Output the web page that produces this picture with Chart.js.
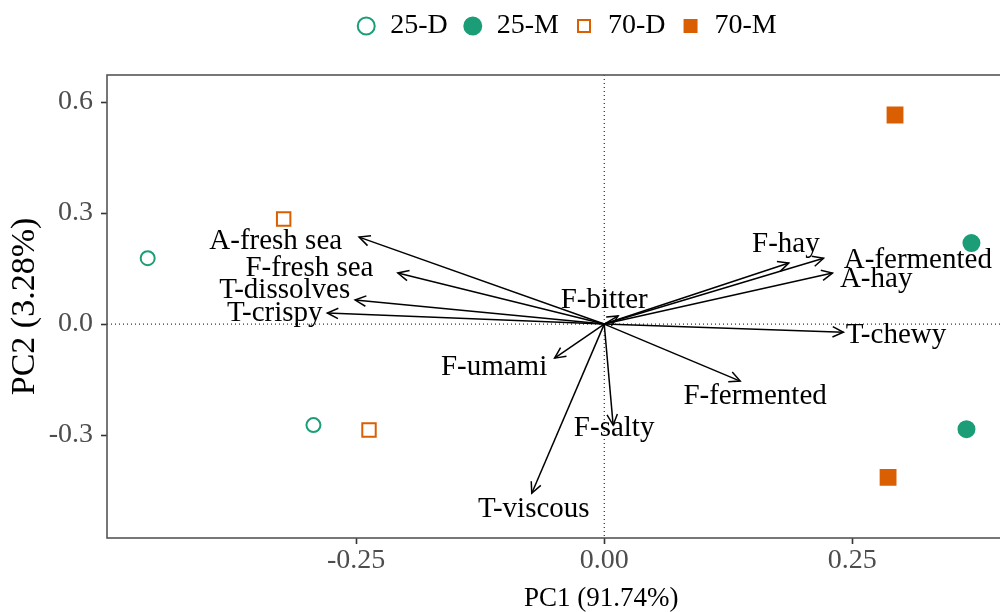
<!DOCTYPE html>
<html>
<head>
<meta charset="utf-8">
<script src="https://cdn.jsdelivr.net/npm/chart.js@4.4.0/dist/chart.umd.min.js"></script>
<style>
  html, body { margin: 0; padding: 0; background: #fff; overflow: hidden; }
  #wrap { width: 1108px; height: 612px; }
</style>
</head>
<body>
<div id="wrap"><canvas id="pca"></canvas></div>
<script>
// sample scores, two replicates per group
var groups = ['25-D', '25-M', '70-D', '70-M']
var scoreX = [[-0.460, -0.293], [0.370, 0.365], [-0.323, -0.237], [0.293, 0.286]]
var scoreY = [[0.178, -0.273], [0.219, -0.284], [0.284, -0.286], [0.565, -0.414]]

// attribute loadings (arrows from origin)
var attrs = ['A-fresh sea', 'F-fresh sea', 'T-dissolves', 'T-crispy', 'F-bitter', 'F-hay',
             'A-fermented', 'A-hay', 'T-chewy', 'F-fermented', 'F-salty', 'F-umami', 'T-viscous']
var loadX = [-0.247, -0.208, -0.251, -0.279, 0.014, 0.186, 0.221, 0.230, 0.241, 0.137, 0.009, -0.050, -0.073]
var loadY = [0.235, 0.138, 0.065, 0.030, 0.022, 0.165, 0.178, 0.138, -0.022, -0.154, -0.273, -0.092, -0.457]
// where each attribute name sits
var labelX = [-0.331, -0.297, -0.322, -0.332, 0.000, 0.183, 0.316, 0.274, 0.294, 0.152, 0.010, -0.111, -0.071]
var labelY = [0.224, 0.151, 0.092, 0.030, 0.065, 0.216, 0.173, 0.122, -0.030, -0.195, -0.281, -0.116, -0.500]

var xTicks = [-0.25, 0, 0.25]
var yTicks = [-0.3, 0, 0.3, 0.6]

var green = '#1b9e77', orange = '#d95f02'
var serif = "'Liberation Serif', 'Times New Roman', serif"

var groupStyle = [
  { pointStyle: 'circle', fill: '#ffffff', stroke: green, radius: 7 },
  { pointStyle: 'circle', fill: green, stroke: green, radius: 8 },
  { pointStyle: 'rect', fill: '#ffffff', stroke: orange, radius: 9.5 },
  { pointStyle: 'rect', fill: orange, stroke: orange, radius: 10.5 }
]

var datasets = []
groups.forEach(function (g, i) {
  var pts = scoreX[i].map(function (x, j) { return { x: x, y: scoreY[i][j] } })
  datasets.push({
    type: 'scatter',
    label: g,
    data: pts,
    pointStyle: groupStyle[i].pointStyle,
    backgroundColor: groupStyle[i].fill,
    borderColor: groupStyle[i].stroke,
    borderWidth: 2,
    pointRadius: groupStyle[i].radius,
    pointHoverRadius: groupStyle[i].radius,
    order: 0
  })
})
attrs.forEach(function (a, i) {
  datasets.push({
    type: 'line',
    label: a,
    isArrow: true,
    data: [{ x: 0, y: 0 }, { x: loadX[i], y: loadY[i] }],
    borderColor: '#000',
    borderWidth: 1.5,
    pointRadius: 0,
    fill: false,
    order: 1
  })
})

// dotted zero lines and the panel frame
var panelPlugin = {
  id: 'panel',
  beforeDatasetsDraw: function (chart) {
    var ctx = chart.ctx, a = chart.chartArea
    var x0 = chart.scales.x.getPixelForValue(0)
    var y0 = chart.scales.y.getPixelForValue(0)
    ctx.save()
    ctx.strokeStyle = '#000'
    ctx.lineWidth = 1
    ctx.setLineDash([1, 3])
    ctx.beginPath()
    ctx.moveTo(x0, a.top); ctx.lineTo(x0, a.bottom)
    ctx.moveTo(a.left, y0); ctx.lineTo(a.right, y0)
    ctx.stroke()
    ctx.restore()
  },
  afterDraw: function (chart) {
    var ctx = chart.ctx, a = chart.chartArea
    ctx.save()
    ctx.strokeStyle = '#555'
    ctx.lineWidth = 1.6
    ctx.strokeRect(a.left, a.top, a.right - a.left, a.bottom - a.top)
    ctx.restore()
  }
}

// room under the legend, and nudge it sideways
var legendGap = {
  id: 'legendGap',
  afterInit: function (chart) {
    var lg = chart.legend, fit = lg.fit
    lg.fit = function () { fit.call(this); this.height += 25 }
  },
  afterLayout: function (chart) {
    chart.legend.left += 26
  }
}

// open arrowheads at loading ends, then attribute names
var arrowPlugin = {
  id: 'arrows',
  afterDatasetsDraw: function (chart) {
    var ctx = chart.ctx
    var sx = chart.scales.x, sy = chart.scales.y
    ctx.save()
    ctx.strokeStyle = '#000'
    ctx.lineWidth = 1.5
    chart.data.datasets.forEach(function (ds, i) {
      if (!ds.isArrow) return
      var pts = chart.getDatasetMeta(i).data
      var p0 = pts[0], p1 = pts[1]
      var ang = Math.atan2(p1.y - p0.y, p1.x - p0.x)
      var len = 12, spread = Math.PI / 7
      ctx.beginPath()
      ctx.moveTo(p1.x - len * Math.cos(ang - spread), p1.y - len * Math.sin(ang - spread))
      ctx.lineTo(p1.x, p1.y)
      ctx.lineTo(p1.x - len * Math.cos(ang + spread), p1.y - len * Math.sin(ang + spread))
      ctx.stroke()
    })
    ctx.fillStyle = '#000'
    ctx.font = '29px ' + serif
    ctx.textAlign = 'center'
    ctx.textBaseline = 'middle'
    attrs.forEach(function (a, i) {
      ctx.fillText(a, sx.getPixelForValue(labelX[i]), sy.getPixelForValue(labelY[i]))
    })
    ctx.restore()
  }
}

new Chart(document.getElementById('pca'), {
  data: { datasets: datasets },
  plugins: [panelPlugin, legendGap, arrowPlugin],
  options: {
    responsive: true,
    maintainAspectRatio: false,
    animation: false,
    layout: { padding: { top: -3, right: 1, left: 0, bottom: 0 } },
    plugins: {
      tooltip: { enabled: false },
      legend: {
        display: true,
        position: 'top',
        labels: {
          usePointStyle: true,
          boxWidth: 20,
          boxHeight: 12,
          padding: 15,
          color: '#000',
          font: { family: serif, size: 28 },
          filter: function (item, data) { return !data.datasets[item.datasetIndex].isArrow }
        }
      }
    },
    scales: {
      x: {
        type: 'linear',
        min: -0.501,
        max: 0.495,
        afterBuildTicks: function (s) { s.ticks = xTicks.map(function (v) { return { value: v } }) },
        afterFit: function (s) { s.height = 74; s.paddingLeft = 0; s.paddingRight = 0 },
        grid: { drawOnChartArea: false, drawTicks: true, tickLength: 6, tickColor: '#333', tickWidth: 1.6 },
        border: { display: false },
        ticks: {
          color: '#4d4d4d',
          padding: 0,
          font: { family: serif, size: 28 },
          callback: function (v) { return v.toFixed(2) }
        },
        title: { display: true, text: 'PC1 (91.74%)', color: '#000', font: { family: serif, size: 27 }, padding: { top: 0, bottom: -3 } }
      },
      y: {
        type: 'linear',
        min: -0.578,
        max: 0.673,
        afterBuildTicks: function (s) { s.ticks = yTicks.map(function (v) { return { value: v } }) },
        afterFit: function (s) { s.width = 107; s.paddingTop = 0; s.paddingBottom = 0 },
        grid: { drawOnChartArea: false, drawTicks: true, tickLength: 6, tickColor: '#333', tickWidth: 1.6 },
        border: { display: false },
        ticks: {
          color: '#4d4d4d',
          padding: 8,
          font: { family: serif, size: 28 },
          callback: function (v) { return v.toFixed(1) }
        },
        title: { display: true, text: 'PC2 (3.28%)', color: '#000', font: { family: serif, size: 34 }, padding: { top: 5, bottom: 0 } }
      }
    }
  }
})
</script>
</body>
</html>
